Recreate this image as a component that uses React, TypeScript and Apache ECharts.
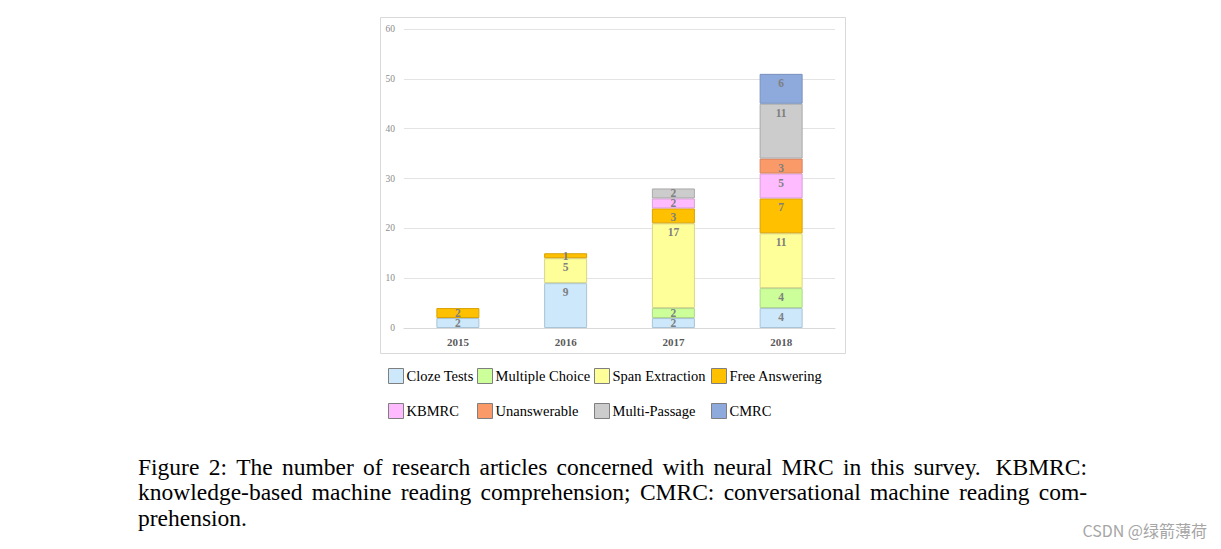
import React, { useEffect, useRef } from "react";
import * as echarts from "echarts";

const years = ["2015", "2016", "2017", "2018"];
const seriesNames = [
  "Cloze Tests",
  "Multiple Choice",
  "Span Extraction",
  "Free Answering",
  "KBMRC",
  "Unanswerable",
  "Multi-Passage",
  "CMRC",
];
const clozeTests = [2, 9, 2, 4];
const multipleChoice = [0, 0, 2, 4];
const spanExtraction = [0, 5, 17, 11];
const freeAnswering = [2, 1, 3, 7];
const kbmrc = [0, 0, 2, 5];
const unanswerable = [0, 0, 0, 3];
const multiPassage = [0, 0, 2, 11];
const cmrc = [0, 0, 0, 6];
const seriesValues = [clozeTests, multipleChoice, spanExtraction, freeAnswering, kbmrc, unanswerable, multiPassage, cmrc];

const fills = ["#CCE8FA", "#CCFF99", "#FFFF99", "#FFC000", "#FFBBFF", "#FA9A68", "#CCCCCC", "#8EA9DB"];
const borders = ["#A9C4D6", "#ADD68A", "#D6D68A", "#D9A200", "#D9A0D9", "#D98060", "#AAAAAA", "#7A91BD"];

const captionLines = [
  "Figure 2: The number of research articles concerned with neural MRC in this survey.  KBMRC:",
  "knowledge-based machine reading comprehension; CMRC: conversational machine reading com-",
  "prehension.",
];

const legendCols = [388, 477, 594, 711];
const legendRows = [368, 403];

export default function App() {
  const ref = useRef<HTMLDivElement>(null);
  useEffect(() => {
    if (!ref.current) return;
    const chart = echarts.init(ref.current, undefined, { renderer: "svg" });

    const capFont = 23.5;
    const capFamily = '"Liberation Serif", "Times New Roman", serif';
    const canvas = document.createElement("canvas");
    const ctx = canvas.getContext("2d")!;
    ctx.font = `${capFont}px ${capFamily}`;
    const capLeft = 138;
    const capRight = 1087;
    const capYs = [467, 492, 518];
    const captionElems: any[] = [];
    captionLines.forEach((line, li) => {
      const justify = li < captionLines.length - 1;
      if (!justify) {
        captionElems.push({
          type: "text",
          x: capLeft,
          y: capYs[li],
          style: { text: line, font: `${capFont}px ${capFamily}`, fill: "#000", verticalAlign: "middle", align: "left" },
        });
        return;
      }
      const words = line.split(" ").filter((w) => w.length > 0);
      const weights: number[] = [];
      const raw = line.split(" ");
      // gap weights: double space => 1.6
      let idx = 0;
      for (let i = 0; i < raw.length; i++) {
        if (raw[i] === "") continue;
        if (idx > 0) {
          weights.push(raw[i - 1] === "" ? 1.6 : 1);
        }
        idx++;
      }
      const widths = words.map((w) => ctx.measureText(w).width);
      const total = widths.reduce((a, b) => a + b, 0);
      const wsum = weights.reduce((a, b) => a + b, 0);
      const unit = (capRight - capLeft - total) / wsum;
      let x = capLeft;
      words.forEach((w, i) => {
        captionElems.push({
          type: "text",
          x,
          y: capYs[li],
          style: { text: w, font: `${capFont}px ${capFamily}`, fill: "#000", verticalAlign: "middle", align: "left" },
        });
        x += widths[i] + (i < weights.length ? weights[i] * unit : 0);
      });
    });

    const legends = seriesNames.map((name, i) => ({
      data: [name],
      left: legendCols[i % 4],
      top: legendRows[Math.floor(i / 4)],
      orient: "horizontal",
      padding: 0,
      icon: "rect",
      itemWidth: 15,
      itemHeight: 15,
      selectedMode: false,
      itemStyle: { borderColor: "#7f7f7f", borderWidth: 1 },
      textStyle: { fontFamily: '"Liberation Serif", serif', fontSize: 14.5, color: "#000", padding: [0, 0, 0, -2] },
    }));

    const series = seriesNames.map((name, i) => ({
      name,
      type: "bar",
      stack: "total",
      barWidth: 43,
      itemStyle: { color: fills[i], borderColor: borders[i], borderWidth: 1 },
      data: seriesValues[i].map((v) =>
        v === 0
          ? null
          : {
              value: v,
              label: { position: v <= 2 ? "inside" : "insideTop", distance: 3 },
            }
      ),
      label: {
        show: true,
        color: "#7f7f7f",
        fontWeight: "bold",
        fontFamily: '"Liberation Serif", serif',
        fontSize: 11.5,
      },
    }));

    chart.setOption({
      animation: false,
      backgroundColor: "#ffffff",
      grid: { left: 404, right: 386, top: 29, bottom: 221, containLabel: false },
      xAxis: {
        type: "category",
        data: years,
        axisLine: { show: true, lineStyle: { color: "#d9d9d9", width: 1 } },
        axisTick: { show: false },
        axisLabel: {
          color: "#595959",
          fontWeight: "bold",
          fontFamily: '"Liberation Serif", serif',
          fontSize: 11,
          margin: 8,
        },
      },
      yAxis: {
        type: "value",
        min: 0,
        max: 60,
        interval: 10,
        axisLine: { show: false },
        axisTick: { show: false },
        splitLine: { lineStyle: { color: "#e3e3e3", width: 1 } },
        axisLabel: {
          color: "#8c8c8c",
          fontFamily: '"Liberation Serif", serif',
          fontSize: 9.5,
          margin: 9,
        },
      },
      legend: legends,
      series,
      graphic: [
        {
          type: "rect",
          z: -1,
          shape: { x: 380.5, y: 17.5, width: 465, height: 336 },
          style: { fill: "none", stroke: "#d9d9d9", lineWidth: 1 },
        },
        ...captionElems,
        {
          type: "text",
          right: 14,
          top: 522,
          style: {
            text: "CSDN @绿箭薄荷",
            font: '16px "Noto Sans CJK SC", "Noto Sans", sans-serif',
            fill: "#a6a6a6",
          },
        },
      ],
    });
    return () => chart.dispose();
  }, []);
  return (
    <div
      ref={ref}
      style={{ position: "fixed", left: 0, top: 0, width: 1221, height: 549, background: "#fff" }}
    />
  );
}
